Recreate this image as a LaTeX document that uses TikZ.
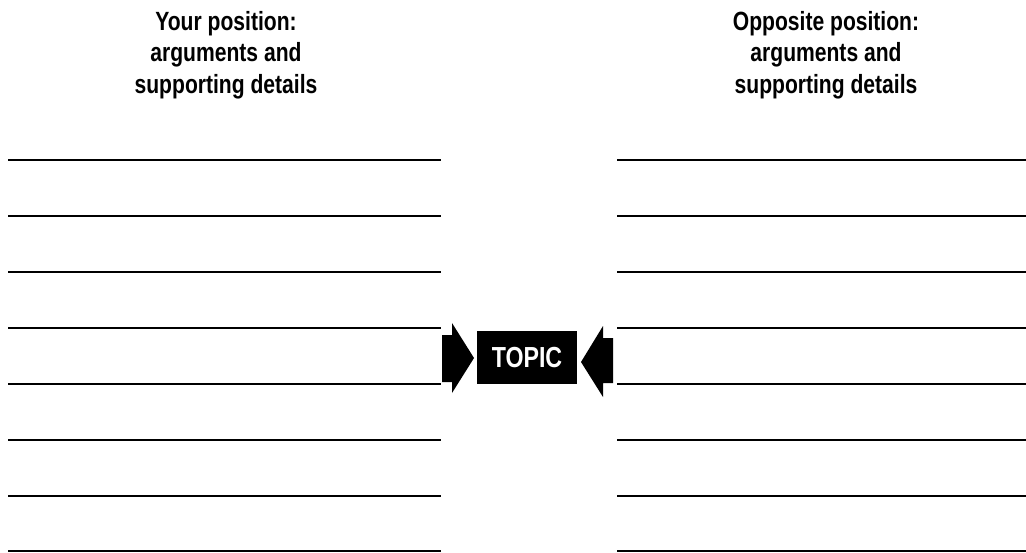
\documentclass[tikz,border=0pt]{standalone}
\usepackage{fontspec}
\setmainfont{Liberation Sans}[FakeStretch=0.8]
\usetikzlibrary{calc}
\definecolor{ink}{RGB}{0,0,0}

\begin{document}
\begin{tikzpicture}[x=0.02cm,y=-0.02cm,ink]
	\tikzset{blank/.style={line width=1.1pt},
		head/.style={align=center,font=\fontsize{15}{18}\selectfont\bfseries}}
	\useasboundingbox (0,0) rectangle (1026,552);
		\node[head] (Y) at (226,55) {Your position:\\arguments and\\supporting details};
		\node[head] (O) at (826,55) {Opposite position:\\arguments and\\supporting details};
		\node[fill,text=white,minimum width=100*0.02cm,minimum height=53*0.02cm,inner sep=0pt,font=\fontsize{16.5}{18}\selectfont\bfseries] (T) at (527,357.5) {TOPIC};
		% left lines
		\draw[blank] (8,160) -- (441,160);
		\draw[blank] (8,216) -- (441,216);
		\draw[blank] (8,272) -- (441,272);
		\draw[blank] (8,328) -- (441,328);
		\draw[blank] (8,384) -- (441,384);
		\draw[blank] (8,440) -- (441,440);
		\draw[blank] (8,496) -- (441,496);
		\draw[blank] (8,551) -- (441,551);
		% right lines
		\draw[blank] (617,160) -- (1026,160);
		\draw[blank] (617,216) -- (1026,216);
		\draw[blank] (617,272) -- (1026,272);
		\draw[blank] (617,328) -- (1026,328);
		\draw[blank] (617,384) -- (1026,384);
		\draw[blank] (617,440) -- (1026,440);
		\draw[blank] (617,496) -- (1026,496);
		\draw[blank] (617,551) -- (1026,551);
		% arrows
		\fill (442,335) -- (452,335) -- (452,323) -- (474,358) -- (452,393) -- (452,382) -- (442,382) -- cycle;
		\fill (613,338) -- (603,338) -- (603,326) -- (581,362) -- (603,397) -- (603,383) -- (613,383) -- cycle;
\end{tikzpicture}
\end{document}
